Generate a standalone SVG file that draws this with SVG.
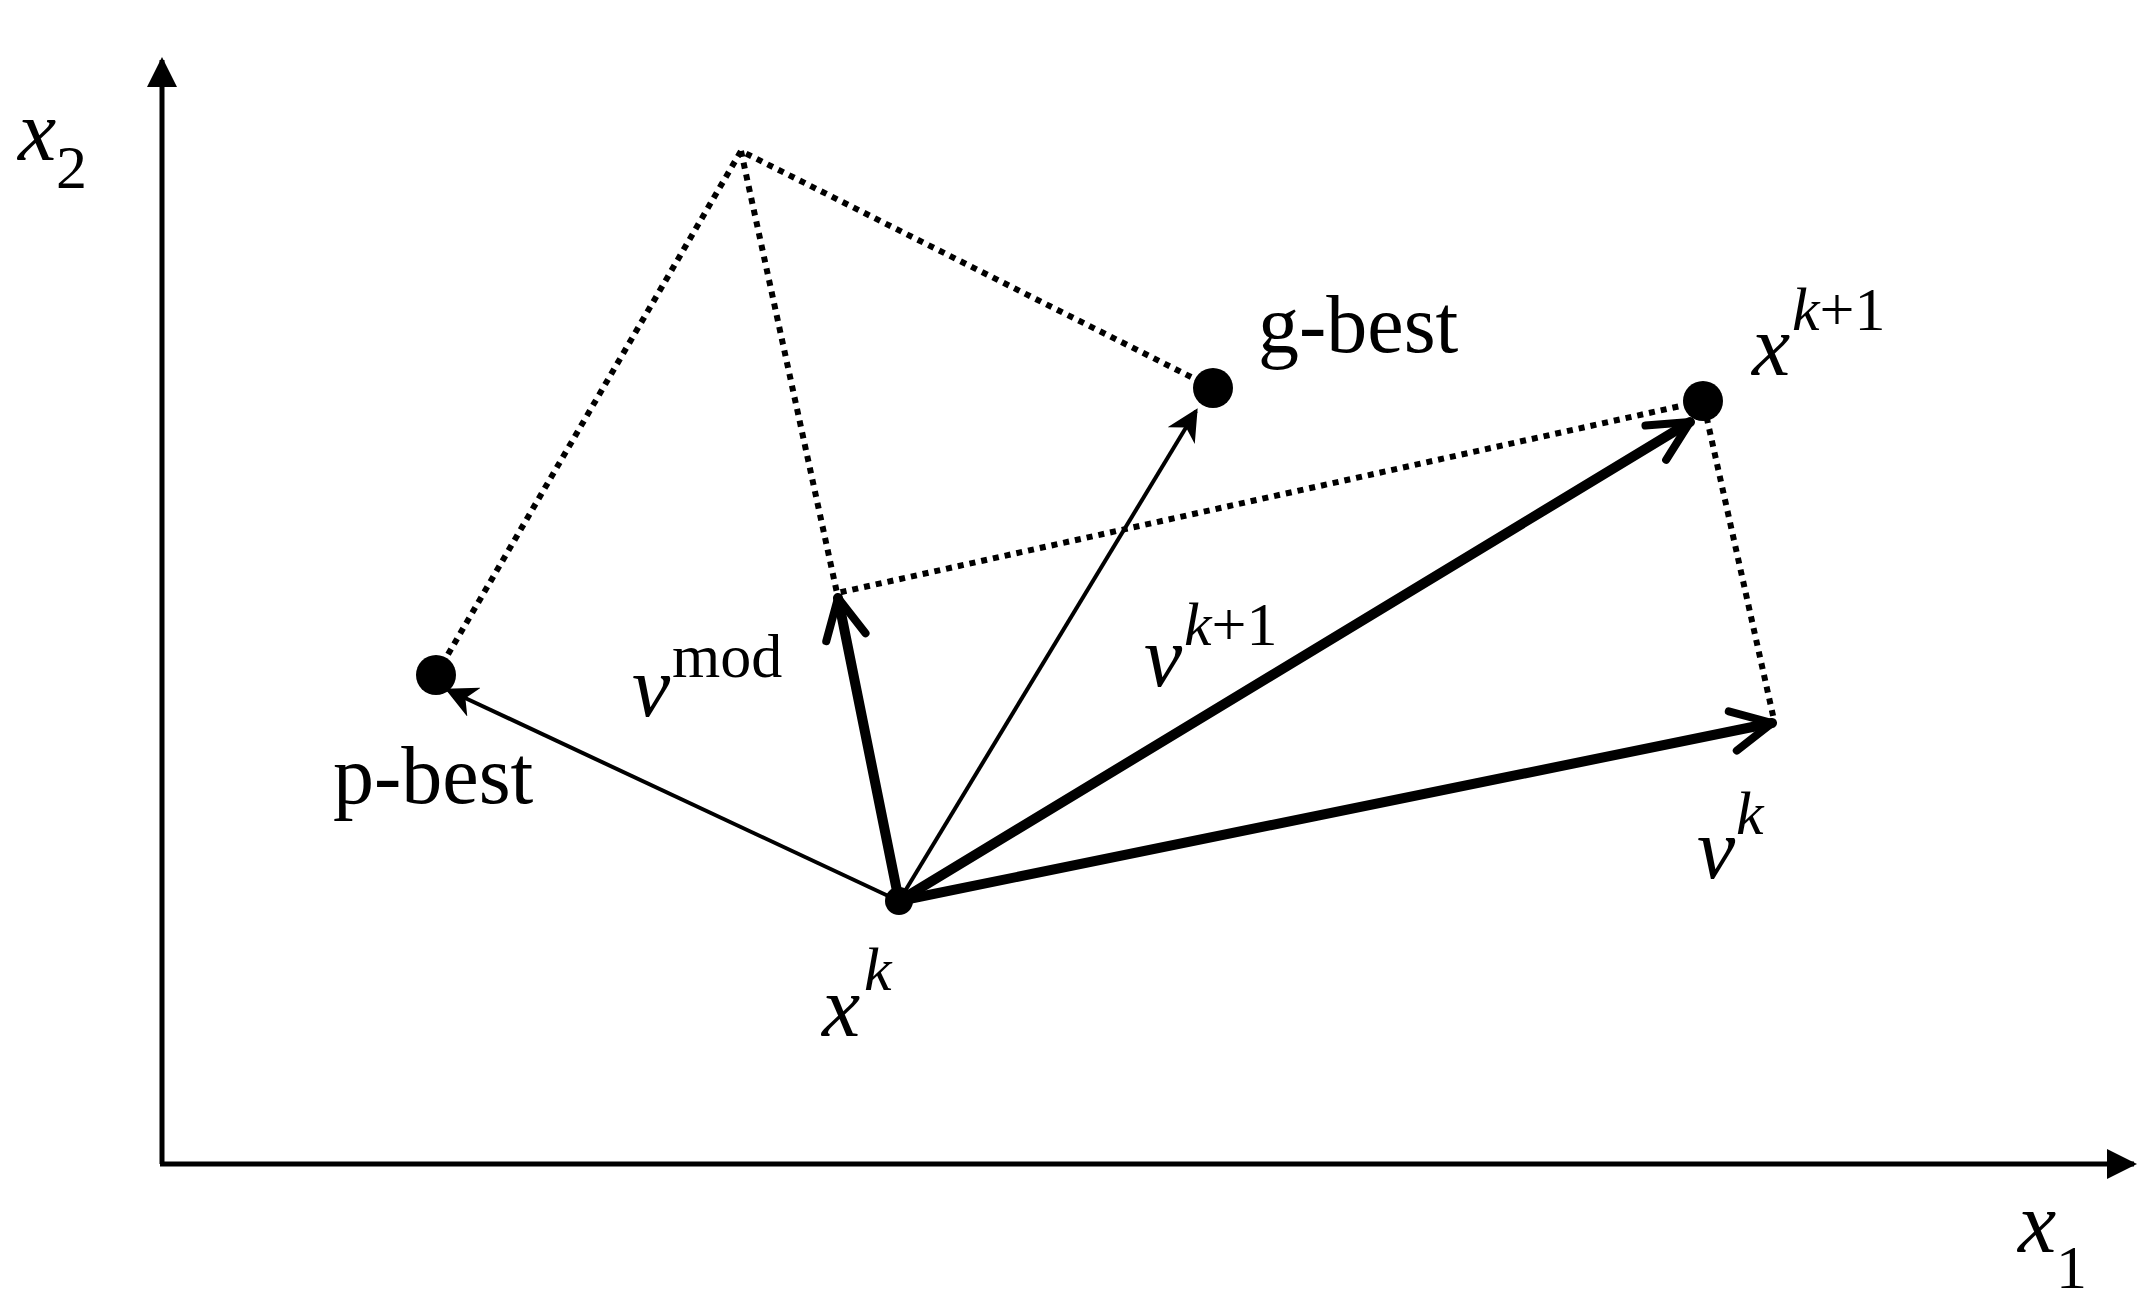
<svg xmlns="http://www.w3.org/2000/svg" width="2141" height="1305" viewBox="0 0 2141 1305">
<style>
.t{font-family:"Liberation Serif",serif;fill:#000}
.i{font-style:italic}
.dot{stroke:#000;stroke-width:6;stroke-dasharray:6 6;fill:none}
.thick{stroke:#000;stroke-width:10;fill:none;stroke-linecap:round}
.thin{stroke:#000;stroke-width:4;fill:none}
</style>
<defs>
<marker id="chev" viewBox="0 0 10 10" refX="9" refY="5" markerWidth="5" markerHeight="5" markerUnits="strokeWidth" orient="auto">
<path d="M1,1 L9,5 L1,9" fill="none" stroke="#000" stroke-width="1.6" stroke-linecap="round" stroke-linejoin="round"/>
</marker>
<marker id="tri" viewBox="0 0 10 10" refX="9" refY="5" markerWidth="8" markerHeight="8" markerUnits="strokeWidth" orient="auto">
<path d="M0,0 L10,5 L0,10 L3,5 Z" fill="#000"/>
</marker>
<marker id="ax" viewBox="0 0 10 10" refX="9" refY="5" markerWidth="6" markerHeight="6" markerUnits="strokeWidth" orient="auto">
<path d="M0,0 L10,5 L0,10 Z" fill="#000"/>
</marker>
</defs>
<rect width="2141" height="1305" fill="#fff"/>
<g id="axes">
<line x1="162" y1="1164" x2="162" y2="60" stroke="#000" stroke-width="5" marker-end="url(#ax)"/>
<line x1="160" y1="1164" x2="2134" y2="1164" stroke="#000" stroke-width="5" marker-end="url(#ax)"/>
</g>
<g id="connectors">
<polyline class="dot" points="436,675 741,151 1213,388"/>
<polyline class="dot" points="741,151 837,593 1703,401 1774,720"/>
<line class="thin" x1="899" y1="901" x2="448" y2="690" marker-end="url(#tri)"/>
<line class="thin" x1="899" y1="901" x2="1196" y2="411" marker-end="url(#tri)"/>
<line class="thick" x1="899" y1="901" x2="838" y2="598" marker-end="url(#chev)"/>
<line class="thick" x1="899" y1="901" x2="1690" y2="422" marker-end="url(#chev)"/>
<line class="thick" x1="899" y1="901" x2="1772" y2="723" marker-end="url(#chev)"/>
</g>
<g id="pbest"><circle cx="436" cy="675" r="20"/><text class="t" x="333" y="803" font-size="82">p-best</text></g>
<g id="gbest"><circle cx="1213" cy="388" r="20"/><text class="t" x="1258" y="352" font-size="82">g-best</text></g>
<g id="xk1"><circle cx="1703" cy="401" r="20"/><text class="t i" x="1752" y="375" font-size="86">x</text><text class="t" x="1792" y="330" font-size="62"><tspan font-style="italic">k</tspan>+1</text></g>
<g id="xk"><circle cx="899" cy="901" r="14"/><text class="t i" x="822" y="1036" font-size="86">x</text><text class="t i" x="864" y="990" font-size="62">k</text></g>
<g id="vmod"><text class="t i" x="632" y="716" font-size="86">v</text><text class="t" x="672" y="677" font-size="62">mod</text></g>
<g id="vk1"><text class="t i" x="1144" y="686" font-size="86">v</text><text class="t" x="1184" y="645" font-size="62"><tspan font-style="italic">k</tspan>+1</text></g>
<g id="vk"><text class="t i" x="1697" y="878" font-size="86">v</text><text class="t i" x="1736" y="834" font-size="62">k</text></g>
<g id="labels">
<text class="t i" x="18" y="160" font-size="86">x</text><text class="t" x="56" y="188" font-size="62">2</text>
<text class="t i" x="2018" y="1252" font-size="86">x</text><text class="t" x="2056" y="1288" font-size="62">1</text>
</g>
</svg>
